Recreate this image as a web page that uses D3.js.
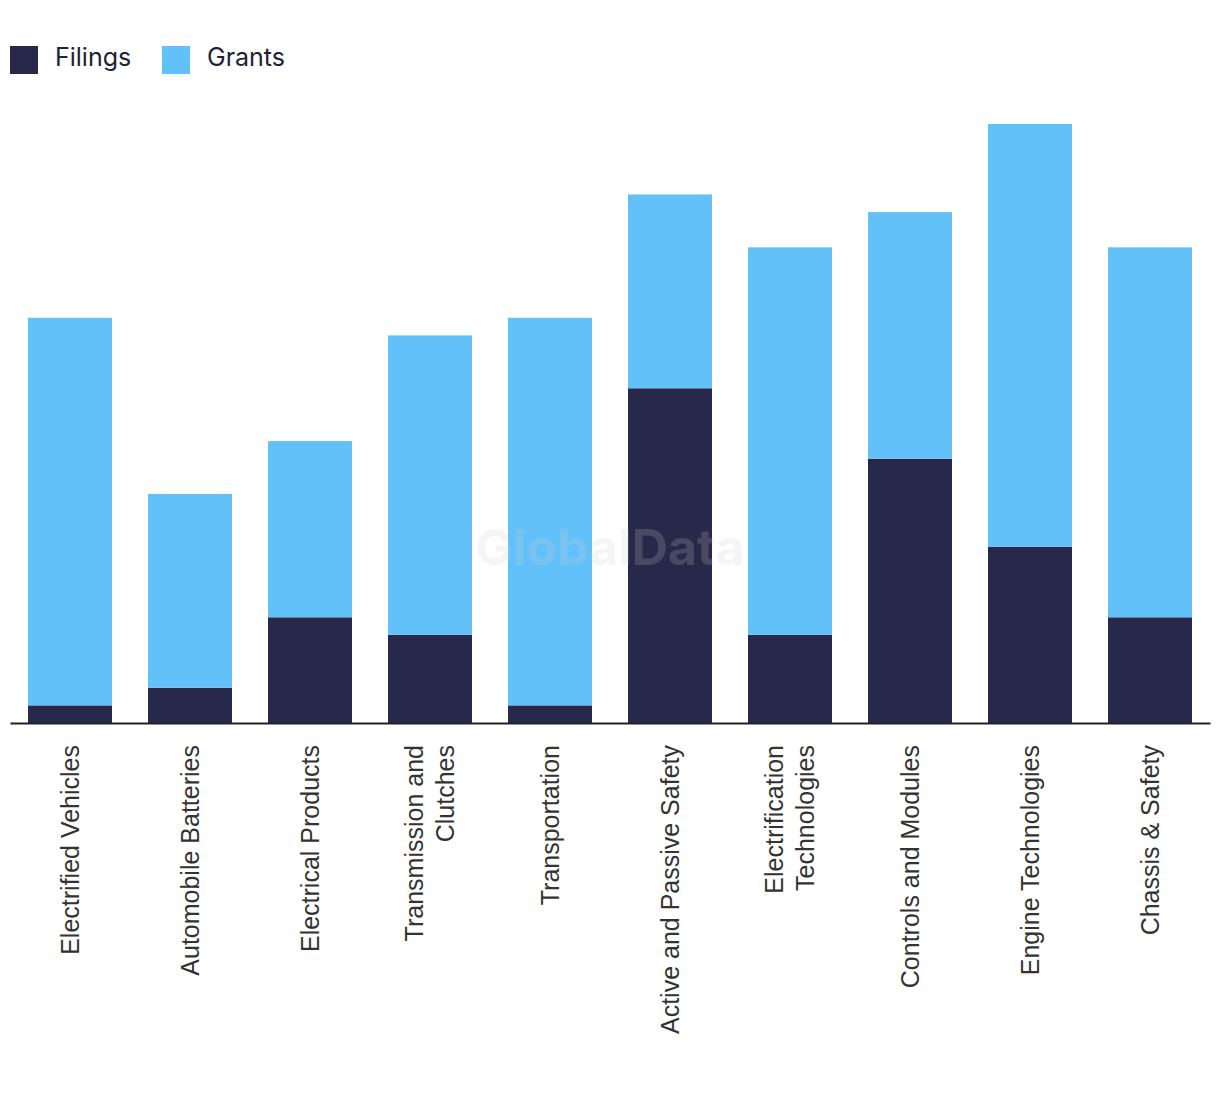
<!DOCTYPE html>
<html><head><meta charset="utf-8">
<script src="https://cdn.jsdelivr.net/npm/d3@7"></script>
<style>body{margin:0;background:#fff}svg{display:block}</style>
</head><body>
<script>
const categories = ["Electrified Vehicles","Automobile Batteries","Electrical Products","Transmission and Clutches","Transportation","Active and Passive Safety","Electrification Technologies","Controls and Modules","Engine Technologies","Chassis & Safety"];
const labelLines = [["Electrified Vehicles"],["Automobile Batteries"],["Electrical Products"],["Transmission and","Clutches"],["Transportation"],["Active and Passive Safety"],["Electrification","Technologies"],["Controls and Modules"],["Engine Technologies"],["Chassis & Safety"]];
const filings = [1,2,6,5,1,19,5,15,10,6];
const grants = [22,11,10,17,22,11,22,14,24,21];
const seriesNames = ["Filings","Grants"];
const colors = ["#28284a","#63c1f9"];

const W=1220,H=1094;
const svg=d3.select("body").append("svg").attr("width",W).attr("height",H);
const data=categories.map((c,i)=>({cat:c,Filings:filings[i],Grants:grants[i]}));
const stack=d3.stack().keys(seriesNames)(data);
const x=d3.scaleBand().domain(categories).range([10,1210]).paddingInner(0.3).paddingOuter(0.15);
const y=d3.scaleLinear().domain([0,34]).range([723,124]);

svg.append("g").selectAll("g").data(stack).join("g").attr("fill",(d,i)=>colors[i])
 .selectAll("rect").data(d=>d).join("rect")
 .attr("x",d=>x(d.data.cat)).attr("width",x.bandwidth())
 .attr("y",d=>y(d[1])).attr("height",d=>y(d[0])-y(d[1]));

// watermark
svg.append("text").attr("x",610).attr("y",565).attr("text-anchor","middle")
 .attr("font-family","Inter, 'Open Sans', sans-serif").attr("font-weight",700).attr("font-size",50)
 .attr("fill","#ccc").attr("fill-opacity",0.2).text("GlobalData");

// axis
const ax=svg.append("g").attr("transform","translate(0,723)").call(d3.axisBottom(x).tickSize(0).tickFormat(""));
ax.select(".domain").attr("stroke","#222").attr("stroke-width",2);

const lbl=svg.append("g");
categories.forEach((c,i)=>{
  const lines=labelLines[i];
  const cx=x(c)+x.bandwidth()/2;
  const t=lbl.append("text").attr("transform",`translate(${cx},745) rotate(-90)`)
   .attr("text-anchor","end").attr("font-family","'Liberation Sans', Arial, sans-serif")
   .attr("font-size",25).attr("fill","#333");
  const n=lines.length;
  lines.forEach((l,j)=>{
    t.append("tspan").attr("x",0).attr("y",(j-(n-1)/2)*31).attr("dy","0.35em").text(l);
  });
});

// legend
const leg=svg.append("g").attr("font-family","Inter, 'Open Sans', sans-serif").attr("font-size",25).attr("fill","#222236");
const legX=[10,162];
seriesNames.forEach((s,i)=>{
  leg.append("rect").attr("x",legX[i]).attr("y",46).attr("width",28).attr("height",28).attr("fill",colors[i]);
  leg.append("text").attr("x",legX[i]+45).attr("y",66).text(s);
});
</script>
</body></html>
